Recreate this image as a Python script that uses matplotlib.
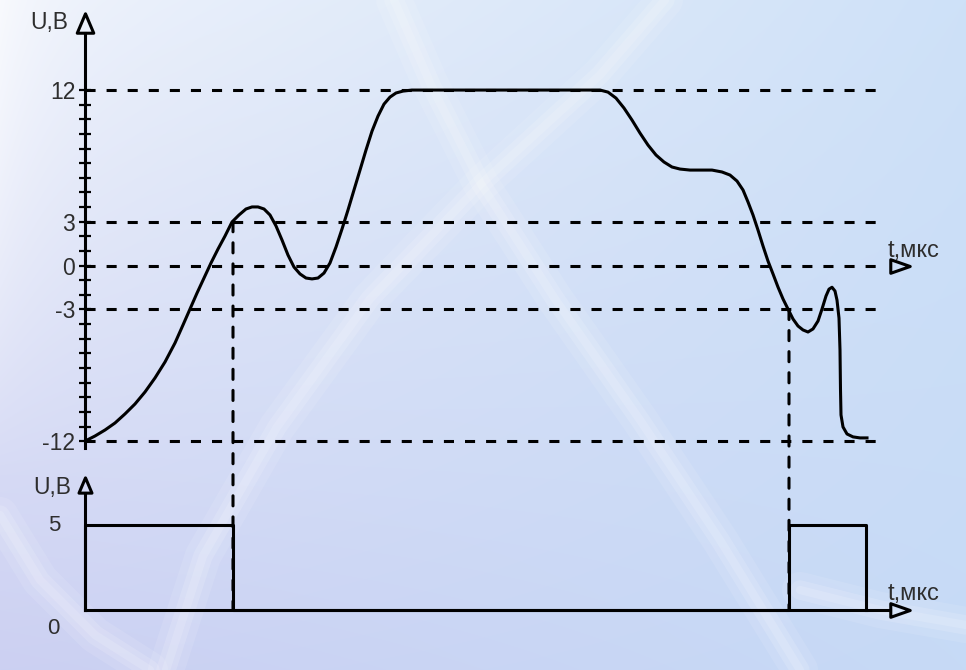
import numpy as np
import matplotlib.pyplot as plt
from matplotlib.patches import ConnectionPatch
from matplotlib.path import Path

plt.rcParams['font.family'] = ['Liberation Sans', 'DejaVu Sans']

# input signal U(t)
t_in = [0.0, 1.0, 2.0, 3.0, 4.0, 5.0, 6.0, 7.0, 8.0, 9.0,
        9.8, 10.5, 11.2, 11.9, 12.6, 13.3, 14.0, 14.7, 15.4, 16.1,
        16.7, 17.3, 17.9, 18.5, 19.1, 19.7, 20.3, 20.9, 21.5, 22.1,
        22.7, 23.3, 23.9, 24.5, 25.1, 25.7, 26.3, 26.9, 27.5, 28.1,
        28.7, 29.3, 29.9, 30.5, 31.1, 31.8, 32.7, 51.5, 52.3, 53.1,
        53.9, 54.7, 55.5, 56.3, 57.1, 57.9, 58.7, 59.5, 60.5, 61.5,
        62.7, 63.7, 64.5, 65.2, 65.8, 66.3, 66.8, 67.3, 67.8, 68.3,
        68.8, 69.3, 69.8, 70.3, 70.8, 71.3, 71.8, 72.3, 72.8, 73.3,
        73.7, 74.1, 74.4, 74.7, 75.0, 75.2, 75.4, 75.5, 75.55, 75.6,
        75.8, 76.2, 76.8, 77.5, 78.2]
u_in = [-12.0, -11.65, -11.24, -10.76, -10.14, -9.46, -8.64, -7.68, -6.59, -5.29,
        -4.06, -2.97, -1.88, -0.85, 0.18, 1.13, 2.02, 2.98, 3.46, 3.87,
        4.01, 4.01, 3.87, 3.46, 2.71, 1.75, 0.72, -0.10, -0.57, -0.85,
        -0.91, -0.85, -0.51, 0.18, 1.27, 2.50, 3.80, 5.17, 6.53, 7.90,
        9.19, 10.22, 11.04, 11.52, 11.80, 11.93, 12.0, 12.0, 11.86, 11.45,
        10.77, 9.95, 9.06, 8.24, 7.56, 7.08, 6.74, 6.60, 6.53, 6.53,
        6.53, 6.40, 6.19, 5.78, 5.17, 4.35, 3.46, 2.43, 1.34, 0.31,
        -0.57, -1.47, -2.28, -2.97, -3.65, -4.13, -4.40, -4.54, -4.33, -3.79,
        -2.97, -2.08, -1.61, -1.48, -1.74, -2.36, -3.59, -5.77, -8.50, -10.21,
        -11.03, -11.51, -11.71, -11.78, -11.78]

levels = [12, 3, 0, -3, -12]
level_labels = ['12', '3', '0', '-3', '-12']
minor_levels = list(range(-12, 13))
t_level_end = 79.5

# output pulses
t_out = [0, 0, 14.8, 14.8, 70.4, 70.4, 78.1, 78.1]
u_out = [0, 5, 5, 0, 0, 5, 5, 0]
t_switch = [14.8, 70.4]
u_switch = [3, -3]
t_arrow = 81.5

ink = 'black'
txt = '#2e2e2e'
dash = (0, (3.3, 3.6))

up_arrow = Path([(-0.85, -1), (0, 1), (0.85, -1), (-0.85, -1)],
                [Path.MOVETO, Path.LINETO, Path.LINETO, Path.CLOSEPOLY])
right_arrow = Path([(-1, -0.7), (1, 0), (-1, 0.7), (-1, -0.7)],
                   [Path.MOVETO, Path.LINETO, Path.LINETO, Path.CLOSEPOLY])

fig = plt.figure(figsize=(9.66, 6.70), dpi=100)

# background: soft blue gradient, light left edge, faint streaks
h, w = 670, 966
yy, xx = np.mgrid[0:1:h * 1j, 0:1:w * 1j]
tl = np.array([238, 242, 251]) / 255
tr = np.array([206, 225, 248]) / 255
bl = np.array([204, 208, 242]) / 255
br = np.array([198, 218, 246]) / 255
grad = (tl * ((1 - xx) * (1 - yy))[..., None] + tr * (xx * (1 - yy))[..., None]
        + bl * ((1 - xx) * yy)[..., None] + br * (xx * yy)[..., None])
glow = np.exp(-xx * w / 45) * np.clip(1 - yy * 1.4, 0, 1) * 0.6
grad = grad + (1 - grad) * glow[..., None]
bg = fig.add_axes([0, 0, 1, 1])
bg.imshow(grad, aspect='auto', extent=(0, w, h, 0))
streaks = [
    ([394, 431, 481, 555, 640, 720, 800], [0, 85, 184, 299, 420, 540, 670]),
    ([665, 600, 481, 370, 277, 203, 166], [0, 75, 184, 299, 427, 556, 670]),
    ([0, 40, 95, 150], [515, 580, 635, 670]),
    ([800, 880, 966], [590, 610, 625]),
]
for sx, sy in streaks:
    bg.plot(sx, sy, color='white', lw=26, alpha=0.1, solid_capstyle='round')
    bg.plot(sx, sy, color='white', lw=14, alpha=0.14, solid_capstyle='round')
    bg.plot(sx, sy, color='white', lw=6, alpha=0.14, solid_capstyle='round')
bg.set_xlim(0, w)
bg.set_ylim(h, 0)
bg.axis('off')

# top: input voltage
ax = fig.add_axes([85 / 966, 0.3285, 850 / 966, 0.6506])
ax.set_facecolor('none')
ax.set_xlim(0, 85)
ax.set_ylim(-12.6, 17.2)
for s in ax.spines.values():
    s.set_visible(False)
ax.set_xticks([])
ax.set_yticks(levels)
ax.set_yticklabels(level_labels)
ax.set_yticks(minor_levels, minor=True)
ax.tick_params(axis='y', which='both', direction='inout', length=8, width=1.6,
               color=ink, labelsize=16.5, labelcolor=txt, pad=3)

for lv in levels:
    ax.plot([0, t_level_end], [lv, lv], color=ink, lw=2.2, ls=dash, zorder=2)
ax.plot([0, 0], [-12.5, 15.9], color=ink, lw=2.2, clip_on=False, zorder=3)
ax.plot(0, 16.6, marker=up_arrow, ms=14, mfc='none', mec=ink, mew=2.2,
        clip_on=False)
ax.plot(t_arrow, 0, marker=right_arrow, ms=14, mfc='none', mec=ink, mew=2.2,
        clip_on=False)
ax.plot(t_in, u_in, color=ink, lw=2.2, solid_joinstyle='round', zorder=4)

ax.annotate('U,В', xy=(0, 16.6), xytext=(-12, 0), textcoords='offset points',
            ha='right', va='center', fontsize=16.5, color=txt)
ax.annotate('t,мкс', xy=(t_arrow, 0), xytext=(-9, 6), textcoords='offset points',
            ha='left', va='baseline', fontsize=17, color=txt)

# bottom: output pulses
ax2 = fig.add_axes([85 / 966, 0.0819, 850 / 966, 0.2157])
ax2.set_facecolor('none')
ax2.set_xlim(0, 85)
ax2.set_ylim(-0.3, 8.2)
ax2.axis('off')
ax2.plot([0, 0], [0, 6.9], color=ink, lw=2.2, clip_on=False)
ax2.plot([0, 80.5], [0, 0], color=ink, lw=2.2, clip_on=False)
ax2.plot(0, 7.35, marker=up_arrow, ms=11, mfc='none', mec=ink, mew=2.2,
         clip_on=False)
ax2.plot(t_arrow, 0, marker=right_arrow, ms=14, mfc='none', mec=ink, mew=2.2,
         clip_on=False)
ax2.plot(t_out, u_out, color=ink, lw=2.2, clip_on=False)

ax2.annotate('U,В', xy=(0, 7.35), xytext=(-10, -2), textcoords='offset points',
             ha='right', va='center', fontsize=16.5, color=txt)
ax2.annotate('5', xy=(0, 5), xytext=(-18, 0), textcoords='offset points',
             ha='right', va='center', fontsize=16, color=txt)
ax2.annotate('0', xy=(0, 0), xytext=(-18, -13), textcoords='offset points',
             ha='right', va='center', fontsize=16, color=txt)
ax2.annotate('t,мкс', xy=(t_arrow, 0), xytext=(-9, 7), textcoords='offset points',
             ha='left', va='baseline', fontsize=17, color=txt)

# dashed drop lines from threshold crossings to the pulse edges
for ts, us in zip(t_switch, u_switch):
    con = ConnectionPatch(xyA=(ts, us), coordsA=ax.transData,
                          xyB=(ts, 0), coordsB=ax2.transData,
                          color=ink, lw=2.2, linestyle=dash, zorder=3)
    fig.add_artist(con)

fig.savefig('out.png', dpi=100)
